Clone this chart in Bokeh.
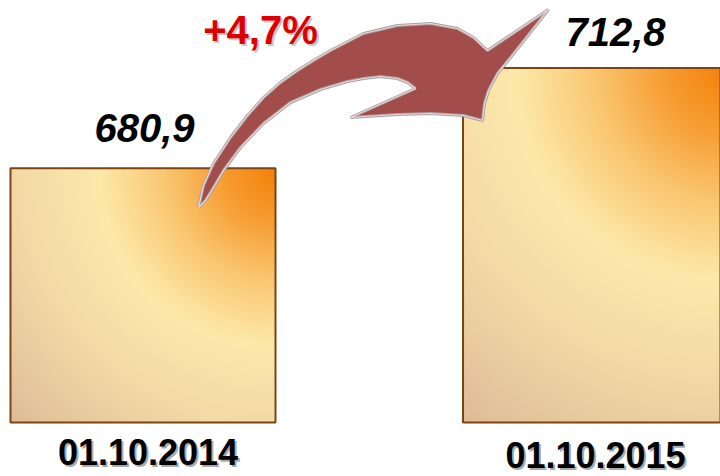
import numpy as np
from bokeh.plotting import figure
from bokeh.models import Range1d
from bokeh.core.properties import value
from bokeh.embed import file_html
from bokeh.resources import INLINE

# ---- data ----
categories = ["01.10.2014", "01.10.2015"]
values = [680.9, 712.8]
value_labels = ["680,9", "712,8"]
baseline = 600.0
growth = (values[1] / values[0] - 1) * 100
growth_label = "+" + f"{growth:.1f}".replace(".", ",") + "%"

# ---- layout ----
W, H = 720, 476
x_start, x_end = -0.3149, 1.2762
y_start, y_end = 582.82, 734.27
U = W / (x_end - x_start)   # px per category unit
K = H / (y_end - y_start)   # px per value unit
bar_w = 0.5856

def X(px):
    return x_start + px / U

def Y(py):
    return y_end - py / K

p = figure(width=W, height=H, x_range=Range1d(x_start, x_end),
           y_range=Range1d(y_start, y_end), output_backend="svg",
           toolbar_location=None, min_border=0, outline_line_color=None,
           x_axis_location=None, y_axis_location=None,
           background_fill_color="white", border_fill_color="white")
p.grid.visible = False

# ---- gradient-filled bars ----
stops_t = [0.0, 0.15, 0.30, 0.48, 0.70, 1.0]
stops_c = np.array([
    (244, 128, 8),
    (247, 158, 52),
    (250, 198, 112),
    (253, 233, 170),
    (243, 218, 166),
    (222, 188, 152),
], dtype=float)

xs = list(range(len(values)))
imgs, ix, iy, idw, idh = [], [], [], [], []
for i, v in enumerate(values):
    dw = bar_w
    dh = v - baseline
    nx = int(round(dw * U))
    ny = int(round(dh * K))
    uu, vv = np.meshgrid(np.arange(nx) + 0.5, np.arange(ny) + 0.5)
    d = np.hypot(nx - uu, ny - vv) / np.hypot(nx, ny)
    img = np.empty((ny, nx), dtype=np.uint32)
    view = img.view(dtype=np.uint8).reshape((ny, nx, 4))
    for c in range(3):
        view[..., c] = np.interp(d, stops_t, stops_c[:, c]).astype(np.uint8)
    view[..., 3] = 255
    imgs.append(img)
    ix.append(xs[i] - dw / 2)
    iy.append(baseline)
    idw.append(dw)
    idh.append(dh)

p.image_rgba(image=imgs, x=ix, y=iy, dw=idw, dh=idh)
p.vbar(x=xs, top=values, bottom=baseline, width=bar_w, fill_alpha=0,
       line_color="#7A4512", line_width=2)

# ---- curved arrow (decorative) ----
arrow_px = [
    (198, 207), (203, 185), (213, 163), (230, 137), (247, 115), (263, 97),
    (280, 82), (297, 70), (313, 60), (330, 50), (363, 33), (397, 25),
    (430, 23), (457, 28), (473, 37), (487, 50),
    (548, 9),
    (510, 57), (497, 73), (488, 90), (484, 103), (482, 120),
    (463, 115), (430, 113), (397, 114), (350, 117),
    (415, 88),
    (407, 82), (397, 78), (380, 76), (363, 78), (347, 81), (330, 86),
    (320, 89), (290, 102), (263, 123), (240, 147), (223, 170), (213, 187),
    (205, 200),
]
ax = [X(a) for a, b in arrow_px]
ay = [Y(b) for a, b in arrow_px]
p.patch(ax, ay, fill_color="#A24C4B", line_color="#A8A0A0", line_width=3)
p.patch(ax, ay, fill_alpha=0, line_color="#EED6D6", line_width=1.2)

# ---- value labels ----
val_dx = [1.5, 20]     # px
val_dy = [40, 36]      # px above bar top (text anchor)
p.text(x=[xs[i] + val_dx[i] / U for i in xs],
       y=[values[i] + val_dy[i] / K for i in xs],
       text=value_labels, text_align="center", text_baseline="alphabetic",
       text_font=value("Liberation Sans"), text_font_style="bold italic",
       text_font_size="40px", text_color="black")

# ---- growth label ----
gx, gy = X(260), Y(29)
p.text(x=[gx + 2 / U], y=[gy - 2 / K], text=[growth_label], text_align="center",
       text_baseline="alphabetic", text_font=value("Liberation Sans"),
       text_font_style="bold", text_font_size="40px", text_color="#808080",
       text_alpha=0.45)
p.text(x=[gx], y=[gy], text=[growth_label], text_align="center",
       text_baseline="alphabetic", text_font=value("Liberation Sans"),
       text_font_style="bold", text_font_size="40px", text_color="#DD0000")

# ---- category labels ----
cat_dx = [5, 0]
cat_base = [Y(451), Y(454)]
cx = [xs[i] + cat_dx[i] / U for i in xs]
p.text(x=[c + 2 / U for c in cx], y=[b - 2 / K for b in cat_base], text=categories,
       text_align="center", text_baseline="alphabetic",
       text_font=value("Liberation Sans"), text_font_style="bold",
       text_font_size="36px", text_color="#555555", text_alpha=0.5)
p.text(x=cx, y=cat_base, text=categories, text_align="center",
       text_baseline="alphabetic", text_font=value("Liberation Sans"),
       text_font_style="bold", text_font_size="36px", text_color="black")

open("out.html", "w").write(file_html(p, INLINE))
